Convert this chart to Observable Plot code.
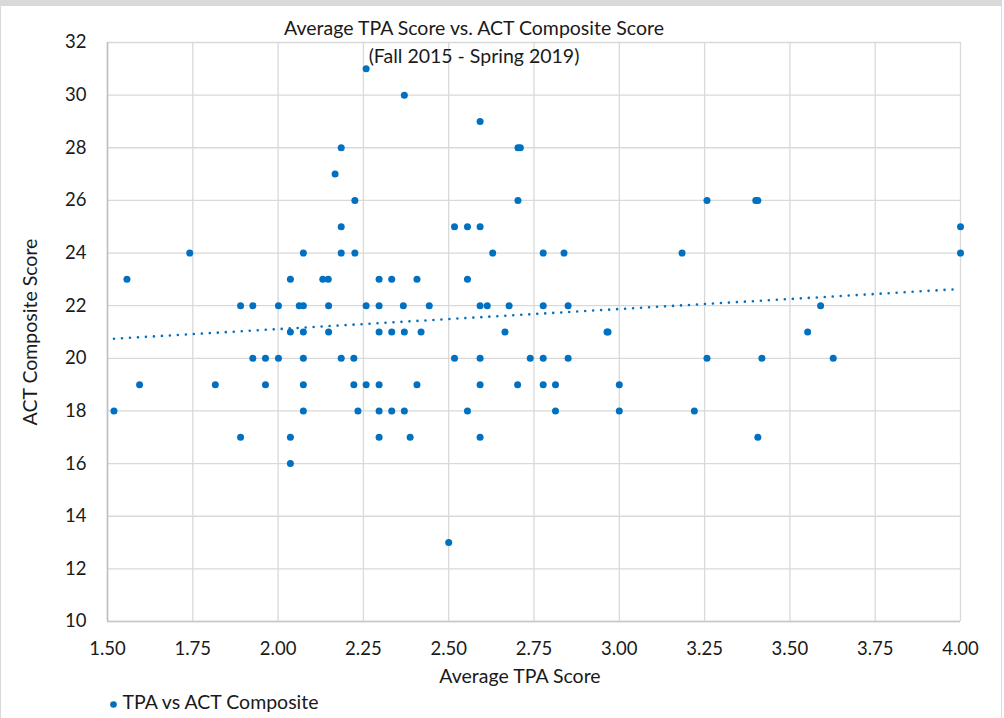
<!DOCTYPE html>
<html>
<head>
<meta charset="utf-8">
<script src="https://cdn.jsdelivr.net/npm/d3@7"></script>
<script src="https://cdn.jsdelivr.net/npm/@observablehq/plot@0.6"></script>
<style>
  html, body { margin: 0; padding: 0; background: #fff; }
  #wrap { position: relative; width: 1004px; height: 718px; overflow: hidden; }
  #border { position: absolute; left: 0; top: 0; width: 1002px; height: 718px;
            border-top: 6px solid #d9d9d9; border-left: 1px solid #d9d9d9; border-right: 1px solid #d9d9d9;
            box-sizing: border-box; pointer-events: none; }
</style>
</head>
<body>
<div id="wrap"><div id="border"></div></div>
<script>
// ACT composite score rows and the average TPA scores read for each
const act31 = [2.258];
const act30 = [2.370];
const act29 = [2.592];
const act28 = [2.185, 2.703, 2.710];
const act27 = [2.167];
const act26 = [2.225, 2.703, 3.257, 3.400, 3.406];
const act25 = [2.185, 2.517, 2.555, 2.592, 4.000];
const act24 = [1.741, 2.074, 2.185, 2.225, 2.629, 2.777, 2.838, 3.184, 4.000];
const act23 = [1.557, 2.036, 2.131, 2.147, 2.296, 2.333, 2.407, 2.555];
const act22 = [1.890, 1.926, 2.001, 2.062, 2.074, 2.148, 2.258, 2.296, 2.367, 2.443, 2.592, 2.613, 2.677, 2.777, 2.850, 3.590];
const act21 = [2.036, 2.074, 2.148, 2.296, 2.333, 2.370, 2.419, 2.665, 2.964, 2.967, 3.552];
const act20 = [1.926, 1.963, 2.001, 2.074, 2.185, 2.222, 2.517, 2.592, 2.739, 2.777, 2.850, 3.257, 3.418, 3.627];
const act19 = [1.594, 1.816, 1.963, 2.074, 2.222, 2.258, 2.296, 2.407, 2.592, 2.702, 2.777, 2.813, 3.000];
const act18 = [1.519, 2.074, 2.234, 2.296, 2.333, 2.370, 2.555, 2.813, 3.000, 3.220];
const act17 = [1.890, 2.036, 2.296, 2.387, 2.592, 3.406];
const act16 = [2.036];
const act13 = [2.500];

const xTicks = [1.50, 1.75, 2.00, 2.25, 2.50, 2.75, 3.00, 3.25, 3.50, 3.75, 4.00];
const yTicks = [10, 12, 14, 16, 18, 20, 22, 24, 26, 28, 30, 32];

const title = "Average TPA Score vs. ACT Composite Score";
const subtitle = "(Fall 2015 - Spring 2019)";
const xTitle = "Average TPA Score";
const yTitle = "ACT Composite Score";
const seriesName = "TPA vs ACT Composite";

const rows = [
  [31, act31], [30, act30], [29, act29], [28, act28], [27, act27], [26, act26],
  [25, act25], [24, act24], [23, act23], [22, act22], [21, act21], [20, act20],
  [19, act19], [18, act18], [17, act17], [16, act16], [13, act13]
];
const data = rows.flatMap(([act, tpas]) => tpas.map(tpa => ({tpa, act})));

const blue = "#0070C0";
const ink = "#1a1a1a";
const font = "Lato, 'Open Sans', sans-serif";

const chart = Plot.plot({
  width: 1004,
  height: 718,
  marginLeft: 107,
  marginRight: 44,
  marginTop: 42,
  marginBottom: 97,
  style: {fontFamily: font, fontSize: "18px", color: ink, background: "transparent"},
  x: {domain: [1.5, 4.0]},
  y: {domain: [10, 32]},
  marks: [
    Plot.gridX(xTicks, {stroke: "#d9d9d9", strokeOpacity: 1, strokeWidth: 1.3}),
    Plot.gridY(yTicks, {stroke: "#d9d9d9", strokeOpacity: 1, strokeWidth: 1.3}),
    Plot.ruleX([1.5], {stroke: "#c0c0c0", strokeWidth: 1.6}),
    Plot.ruleY([10], {stroke: "#c8c8c8", strokeWidth: 1.6}),
    Plot.axisX(xTicks, {tickSize: 0, tickPadding: 20, tickFormat: d3.format(".2f"), label: null, fontSize: 18.5, fill: ink}),
    Plot.axisY(yTicks, {tickSize: 0, tickPadding: 21, label: null, fontSize: 18.5, fill: ink}),
    Plot.linearRegressionY(data, {x: "tpa", y: "act", ci: 0, stroke: blue, strokeWidth: 2.6,
      strokeDasharray: "0,8", strokeLinecap: "round"}),
    Plot.dot(data, {x: "tpa", y: "act", r: 3.5, fill: blue, stroke: "none"}),
    Plot.text([title], {frameAnchor: "top", dx: -60, dy: -21, fontSize: 19.5, fill: ink}),
    Plot.text([subtitle], {frameAnchor: "top", dx: -60, dy: 7, fontSize: 19.5, fill: ink}),
    Plot.text([xTitle], {frameAnchor: "bottom", dx: -14, dy: 61, fontSize: 19.5, fill: ink}),
    Plot.text([yTitle], {frameAnchor: "left", dx: -77, rotate: -90, textAnchor: "middle", fontSize: 19.5, fill: ink}),
    Plot.dot([seriesName], {frameAnchor: "bottom-left", dx: 6, dy: 83, r: 3.3, fill: blue, stroke: "none"}),
    Plot.text([seriesName], {frameAnchor: "bottom-left", dx: 15, dy: 87, textAnchor: "start", fontSize: 19.5, fill: ink})
  ]
});
document.getElementById("wrap").prepend(chart);
</script>
</body>
</html>
